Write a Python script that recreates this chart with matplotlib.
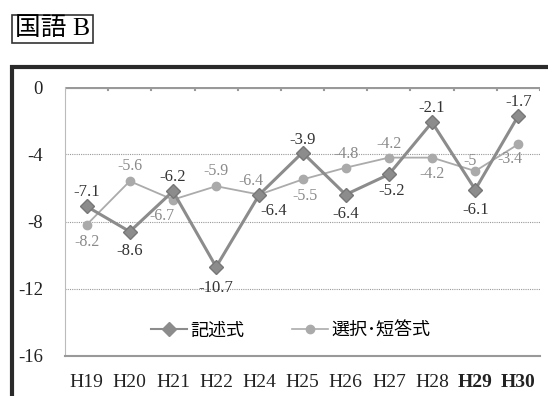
import matplotlib.pyplot as plt
from matplotlib.patches import Rectangle
from matplotlib.lines import Line2D

plt.rcParams['font.family'] = ['Liberation Serif', 'Noto Sans CJK JP']

years = ['H19', 'H20', 'H21', 'H22', 'H24', 'H25', 'H26', 'H27', 'H28', 'H29', 'H30']
kijutsu = [-7.1, -8.6, -6.2, -10.7, -6.4, -3.9, -6.4, -5.2, -2.1, -6.1, -1.7]
sentaku = [-8.2, -5.6, -6.7, -5.9, -6.4, -5.5, -4.8, -4.2, -4.2, -5, -3.4]

# label offsets in points (dx, dy)
kij_off = [(0, 10), (0, -14), (0, 10), (0, -15), (10, -12), (0, 9), (0, -14), (2, -12), (0, 10), (0, -15), (0, 10)]
sen_off = [(0, -12), (0, 11), (-8, -12), (0, 11), (-6, 10), (2, -12), (0, 10), (0, 10), (0, -12), (-4, 7), (-6, -11)]

fig = plt.figure(figsize=(5.48, 3.96), dpi=100)

# outer chart frame
fig.patches.append(Rectangle((12 / 548, -0.05), 0.99, 1 - 67 / 396 + 0.05,
                             transform=fig.transFigure, fill=False,
                             edgecolor='#2a2a2a', linewidth=3))

# title box
fig.text(15 / 548, 1 - 29 / 396, '国語 B', fontsize=18.5, va='center', ha='left',
         bbox=dict(boxstyle='square,pad=0.1', facecolor='white', edgecolor='#333333', linewidth=1.2))

ax = fig.add_axes([65 / 548, 1 - 356 / 396, (540 - 65) / 548, (356 - 87) / 396])
x = list(range(len(years)))

ax.plot(x, kijutsu, color='#8c8c8c', linewidth=2.2, marker='D', markersize=7,
        markerfacecolor='#8c8c8c', markeredgecolor='#777777', zorder=4)
ax.plot(x, sentaku, color='#ababab', linewidth=1.3, marker='o', markersize=6,
        markerfacecolor='#aaaaaa', markeredgecolor='#aaaaaa', zorder=3)

for i, v in enumerate(kijutsu):
    ax.annotate(f'{v:g}', (i, v), xytext=kij_off[i], textcoords='offset points',
                ha='center', va='center', fontsize=12, color='#333333', zorder=5)
for i, v in enumerate(sentaku):
    ax.annotate(f'{v:g}', (i, v), xytext=sen_off[i], textcoords='offset points',
                ha='center', va='center', fontsize=11.5, color='#8a8a8a', zorder=5)

ax.set_xlim(-0.5, 10.5)
ax.set_ylim(-16, 0)
ax.set_yticks([0, -4, -8, -12, -16])
ax.set_yticklabels(['0', '-4', '-8', '-12', '-16'])
ax.tick_params(axis='y', length=0, labelsize=13.5, pad=16, colors='#222222')

ax.set_xticks(x)
ax.set_xticklabels(years)
ax.tick_params(axis='x', length=0, labelsize=14, pad=13, colors='#222222')
for lbl in ax.get_xticklabels()[-2:]:
    lbl.set_fontweight('bold')

for y in [-4, -8, -12]:
    ax.axhline(y, color='#999999', linewidth=0.8, linestyle=(0, (1, 1)), zorder=1)

# zero line with small category ticks
ax.axhline(0, color='#999999', linewidth=3, zorder=2)
for b in [i - 0.5 for i in range(len(years) + 1)]:
    ax.plot([b, b], [0, -0.2], color='#999999', linewidth=1.5, zorder=2)

for s in ['top', 'right']:
    ax.spines[s].set_visible(False)
ax.spines['bottom'].set_color('#999999')
ax.spines['bottom'].set_linewidth(1.5)
ax.spines['left'].set_color('#bbbbbb')
ax.spines['left'].set_linewidth(0.8)
ax.spines['left'].set_linestyle((0, (1, 1)))

handles = [
    Line2D([], [], color='#8c8c8c', linewidth=1.5, marker='D', markersize=7, markerfacecolor='#8c8c8c'),
    Line2D([], [], color='#ababab', linewidth=1.2, marker='o', markersize=6, markerfacecolor='#aaaaaa'),
]
ax.legend(handles, ['記述式', '選択･短答式'], loc='center', bbox_to_anchor=(0.475, 0.095),
          ncol=2, frameon=False, handlelength=2.0, columnspacing=2.6, handletextpad=0.2,
          prop={'family': ['Noto Sans CJK JP'], 'size': 13})

fig.savefig('out.png', dpi=100)
